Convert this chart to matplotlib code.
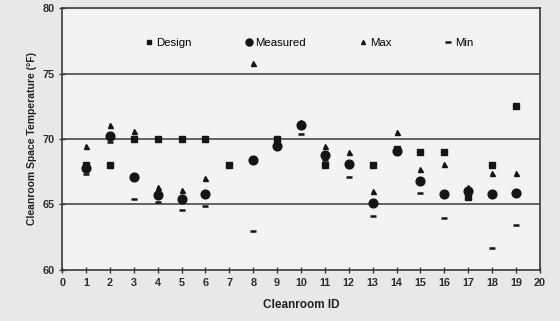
import numpy as np
import matplotlib
matplotlib.use("Agg")
import matplotlib.pyplot as plt

# data (deg F), nan = not visible
room_id = list(range(1, 20))
design = [68.0, 68.0, 70.0, 70.0, 70.0, 70.0, 68.0, np.nan, 70.0, np.nan,
          68.0, np.nan, 68.0, 69.2, 69.0, 69.0, 65.6, 68.0, 72.5]
measured = [67.8, 70.2, 67.1, 65.7, 65.4, 65.8, np.nan, 68.4, 69.5, 71.1,
            68.8, 68.1, 65.1, 69.1, 66.8, 65.8, 66.0, 65.8, 65.9]
max_temp = [69.5, 71.1, 70.6, 66.3, 66.1, 67.0, np.nan, 75.8, 69.8, 71.3,
            69.5, 69.0, 66.0, 70.5, 67.7, 68.1, 66.3, 67.4, 67.4]
min_temp = [67.3, 69.8, 65.4, 65.2, 64.6, 64.9, np.nan, 63.0, 69.4, 70.4,
            68.4, 67.1, 64.1, np.nan, 65.9, 64.0, np.nan, 61.7, 63.4]

plt.rcParams['font.family'] = ['Liberation Sans', 'DejaVu Sans']
ink = '#151515'

fig = plt.figure(figsize=(5.6, 3.21), dpi=100, facecolor='#e8e8e8')
ax = fig.add_axes([0.111, 0.159, 0.853, 0.816], facecolor='#f3f3f3')

ax.plot(room_id, design, 's', color=ink, ms=4.2, ls='none', label='Design')
ax.plot(room_id, measured, 'o', color=ink, ms=6.3, ls='none', label='Measured')
ax.plot(room_id, max_temp, '^', color=ink, ms=3.6, ls='none', label='Max')
ax.plot(room_id, min_temp, '_', color=ink, ms=5, mew=1.8, ls='none', label='Min')

ax.set_xlim(0, 20)
ax.set_ylim(60, 80)
ax.set_xticks(range(0, 21))
ax.set_yticks(range(60, 81, 5))
for yv in [65, 70, 75]:
    ax.axhline(yv, color='#4a4a4a', lw=1.2, zorder=0)

for s in ax.spines.values():
    s.set_color('#3a3a3a')
    s.set_linewidth(1.2)
ax.tick_params(direction='inout', length=5, width=1, color='#3a3a3a',
               labelsize=7.8, labelcolor='#2e2e2e', pad=3)
for t in ax.get_xticklabels() + ax.get_yticklabels():
    t.set_fontweight('bold')

ax.set_xlabel('Cleanroom ID', fontsize=8.5, fontweight='bold', color='#222222', labelpad=8)
ax.set_ylabel('Cleanroom Space Temperature (°F)', fontsize=7.5, fontweight='bold',
              color='#222222', labelpad=4)

ax.legend(loc='upper center', bbox_to_anchor=(0.518, 0.925), ncol=4, frameon=False,
          fontsize=8.2, handlelength=0.6, handletextpad=0.3, columnspacing=4.7,
          markerscale=0.8)

fig.savefig('out.png', dpi=100, facecolor=fig.get_facecolor())
